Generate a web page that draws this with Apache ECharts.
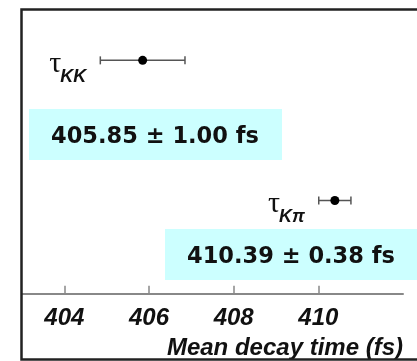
<!DOCTYPE html>
<html>
<head>
<meta charset="utf-8">
<script src="https://cdn.jsdelivr.net/npm/echarts@6/dist/echarts.min.js"></script>
<style>html,body{margin:0;padding:0;background:#fff;}#c{width:417px;height:361px;}</style>
</head>
<body>
<div id="c"></div>
<script>
const subscripts = ['KK', 'K\u03C0'];
const means = [405.85, 410.39];
const errors = [1.00, 0.38];
const rows = [5, 2];
const xTicks = [404, 406, 408, 410];
const xMin = 403, xMax = 412;
const axisTitle = 'Mean decay time (fs)';

const chart = echarts.init(document.getElementById('c'), null, {renderer: 'canvas'});
const ctx = document.createElement('canvas').getContext('2d');
const subFont = "italic bold 18px 'Liberation Sans'";
function textW(t, f) { ctx.font = f; return ctx.measureText(t).width; }

const data = means.map((m, i) => [m - errors[i], m + errors[i], m, rows[i], i]);
const boxText = means.map((m, i) => m.toFixed(2) + ' \u00B1 ' + errors[i].toFixed(2) + ' fs');

function renderItem(params, api) {
  const row = api.value(3);
  const lo = api.coord([api.value(0), row]);
  const hi = api.coord([api.value(1), row]);
  const c = api.coord([api.value(2), row]);
  const idx = api.value(4);
  const sub = subscripts[idx];
  const lineStyle = {stroke: '#555', lineWidth: 1.5};
  const subRight = lo[0] - 14;
  const sw = textW(sub, subFont);
  return {
    type: 'group',
    children: [
      {type: 'line', shape: {x1: lo[0], y1: lo[1], x2: hi[0], y2: hi[1]}, style: lineStyle},
      {type: 'line', shape: {x1: lo[0], y1: lo[1] - 4, x2: lo[0], y2: lo[1] + 4}, style: lineStyle},
      {type: 'line', shape: {x1: hi[0], y1: hi[1] - 4, x2: hi[0], y2: hi[1] + 4}, style: lineStyle},
      {type: 'circle', shape: {cx: c[0], cy: c[1], r: 4.5}, style: {fill: '#000'}},
      {type: 'text', style: {text: sub, x: subRight, y: c[1] + 8, align: 'right', verticalAlign: 'top',
        font: subFont, fill: '#111'}},
      {type: 'text', style: {text: '\u03C4', x: subRight - sw + 1, y: c[1] + 4, align: 'right', verticalAlign: 'middle',
        font: "30px 'Liberation Serif'", fill: '#111'}}
    ]
  };
}

const boxes = [
  {x: 29, y: 109, w: 253, h: 51},
  {x: 165, y: 229, w: 260, h: 51}
];
const graphic = [];
boxes.forEach((b, i) => {
  graphic.push({type: 'rect', z: 0, shape: {x: b.x, y: b.y, width: b.w, height: b.h}, style: {fill: '#ccffff'}});
});
graphic.push({type: 'text', z: 1, style: {text: boxText[0], x: 155, y: 137, align: 'center', verticalAlign: 'middle',
  font: "bold 22.5px 'DejaVu Sans'", fill: '#111'}});
graphic.push({type: 'text', z: 1, style: {text: boxText[1], x: 291, y: 257, align: 'center', verticalAlign: 'middle',
  font: "bold 22.5px 'DejaVu Sans'", fill: '#111'}});
graphic.push({type: 'polyline', z: 10, shape: {points: [[425, 9.5], [21.5, 9.5], [21.5, 359.5], [425, 359.5]]},
  style: {stroke: '#222', lineWidth: 2.5, fill: null}});

chart.setOption({
  animation: false,
  backgroundColor: '#fff',
  grid: {left: 22, right: 14, top: 9, bottom: 62.5},
  xAxis: {
    type: 'value', min: xMin, max: xMax,
    name: axisTitle, nameLocation: 'end', nameGap: 0,
    nameTextStyle: {fontFamily: 'Liberation Sans', fontStyle: 'italic', fontWeight: 'bold', fontSize: 24, color: '#111',
      align: 'right', verticalAlign: 'top', padding: [43, 0, 0, 0]},
    axisLine: {lineStyle: {color: '#888', width: 2}},
    axisTick: {inside: true, length: 8, lineStyle: {color: '#888', width: 1.5}, customValues: xTicks},
    axisLabel: {customValues: xTicks, fontFamily: 'Liberation Sans', fontStyle: 'italic', fontWeight: 'bold', fontSize: 24,
      color: '#111', margin: 8},
    splitLine: {show: false}
  },
  yAxis: {type: 'value', min: -0.1, max: 6.1, show: false},
  graphic: graphic,
  series: [{
    type: 'custom', renderItem: renderItem, data: data,
    encode: {x: [0, 1, 2], y: 3}, z: 5
  }]
});
</script>
</body>
</html>
